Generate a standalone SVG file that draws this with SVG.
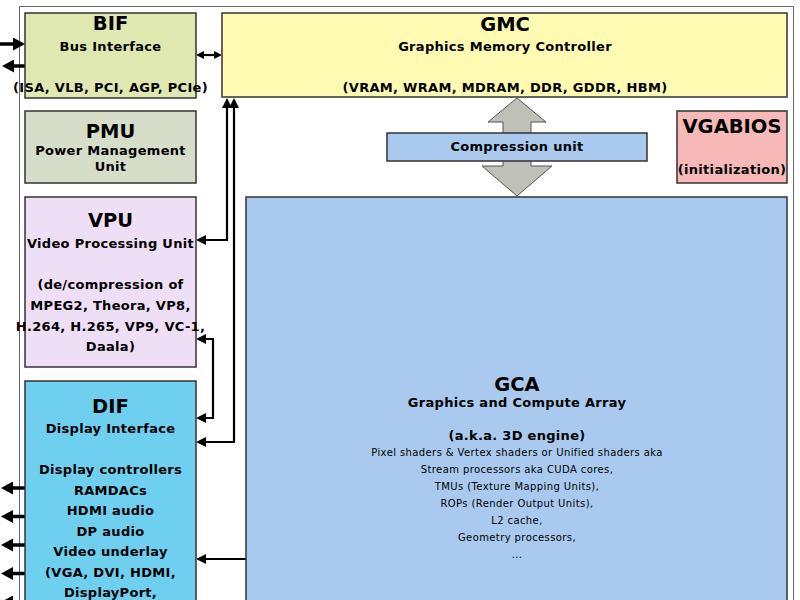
<svg xmlns="http://www.w3.org/2000/svg" width="800" height="600" viewBox="0 0 800 600">
<style>
.box{stroke:#333;stroke-width:1.5}
text{font-family:"DejaVu Sans","Liberation Sans",sans-serif;font-weight:bold;text-anchor:middle;fill:#000}
.t{font-size:19.5px}
.s{font-size:13px;letter-spacing:0.3px}
.r{font-size:10px;font-weight:normal;letter-spacing:0.4px}
.ln{fill:none;stroke:#000}
.thick{stroke-width:3.5}
.thin{stroke-width:2.2}
</style>
<defs>
<marker id="big" markerUnits="userSpaceOnUse" markerWidth="13" markerHeight="13" refX="0" refY="6.5" orient="auto-start-reverse"><path d="M0,0 L12,6.5 L0,13 Z" fill="#000"/></marker>
<marker id="med" markerUnits="userSpaceOnUse" markerWidth="11" markerHeight="11" refX="0" refY="5" orient="auto-start-reverse"><path d="M0,0 L10,5 L0,10 Z" fill="#000"/></marker>
<marker id="sm" markerUnits="userSpaceOnUse" markerWidth="9" markerHeight="9" refX="0" refY="4" orient="auto-start-reverse"><path d="M0,0 L8,4 L0,8 Z" fill="#000"/></marker>
</defs>
<rect x="0" y="0" width="800" height="600" fill="#fff"/>
<path d="M19.5,600 V6.5 H793.5 V600" fill="none" stroke="#666" stroke-width="1"/>

<g id="connectors">
<path d="M517,98 L546,122 L531,122 L531,166 L552,166 L517,196 L482,166 L503,166 L503,122 L488,122 Z" fill="#bfc1b9" stroke="#555" stroke-width="1"/>
<line class="ln thick" x1="0" y1="44" x2="13" y2="44" marker-end="url(#big)"/>
<line class="ln thick" x1="25" y1="66" x2="14" y2="66" marker-end="url(#big)"/>
<line class="ln thin" x1="204" y1="55" x2="214" y2="55" marker-start="url(#sm)" marker-end="url(#sm)"/>
<path class="ln thin" d="M206,240 H227 V108" marker-start="url(#med)" marker-end="url(#med)"/>
<path class="ln thin" d="M206,442 H234 V108" marker-start="url(#med)" marker-end="url(#med)"/>
<path class="ln thin" d="M206,339 H213 V418 H206" marker-start="url(#med)" marker-end="url(#med)"/>
<line class="ln thin" x1="246" y1="559" x2="206" y2="559" marker-end="url(#med)"/>
<line class="ln thick" x1="25" y1="488" x2="13" y2="488" marker-end="url(#big)"/>
<line class="ln thick" x1="25" y1="516.5" x2="13" y2="516.5" marker-end="url(#big)"/>
<line class="ln thick" x1="25" y1="545" x2="13" y2="545" marker-end="url(#big)"/>
<line class="ln thick" x1="25" y1="573.5" x2="13" y2="573.5" marker-end="url(#big)"/>
<line class="ln thick" x1="25" y1="602" x2="13" y2="602" marker-end="url(#big)"/>
</g>

<g id="bif">
<rect class="box" x="25" y="13" width="171" height="85" fill="#dfe8b1"/>
<text class="t" x="110.5" y="30">BIF</text>
<text class="s" x="110.5" y="51">Bus Interface</text>
<text class="s" x="110.5" y="92">(ISA, VLB, PCI, AGP, PCIe)</text>
</g>

<g id="pmu">
<rect class="box" x="25" y="111" width="171" height="72" fill="#d6ddc8"/>
<text class="t" x="110.5" y="138">PMU</text>
<text class="s" x="110.5" y="155">Power Management</text>
<text class="s" x="110.5" y="171">Unit</text>
</g>

<g id="vpu">
<rect class="box" x="25" y="197" width="171" height="170" fill="#eedff6"/>
<text class="t" x="110.5" y="227">VPU</text>
<text class="s" x="110.5" y="248">Video Processing Unit</text>
<text class="s" x="110.5" y="289">(de/compression of</text>
<text class="s" x="110.5" y="310">MPEG2, Theora, VP8,</text>
<text class="s" x="110.5" y="331">H.264, H.265, VP9, VC-1,</text>
<text class="s" x="110.5" y="351">Daala)</text>
</g>

<g id="dif">
<rect class="box" x="25" y="381" width="171" height="230" fill="#6fcfef"/>
<text class="t" x="110.5" y="413">DIF</text>
<text class="s" x="110.5" y="433">Display Interface</text>
<text class="s" x="110.5" y="474">Display controllers</text>
<text class="s" x="110.5" y="494.5">RAMDACs</text>
<text class="s" x="110.5" y="515">HDMI audio</text>
<text class="s" x="110.5" y="535.5">DP audio</text>
<text class="s" x="110.5" y="556">Video underlay</text>
<text class="s" x="110.5" y="576.5">(VGA, DVI, HDMI,</text>
<text class="s" x="110.5" y="597">DisplayPort,</text>
</g>

<g id="gmc">
<rect class="box" x="222" y="13" width="565" height="84" fill="#fffbb2"/>
<text class="t" x="505" y="31">GMC</text>
<text class="s" x="505" y="51">Graphics Memory Controller</text>
<text class="s" x="505" y="92">(VRAM, WRAM, MDRAM, DDR, GDDR, HBM)</text>
</g>

<g id="compression">
<rect class="box" x="387" y="133" width="260" height="28" fill="#a9caee"/>
<text class="s" x="517" y="151">Compression unit</text>
</g>

<g id="vgabios">
<rect class="box" x="677" y="111" width="110" height="72" fill="#f7b9b7"/>
<text class="t" x="732" y="133">VGABIOS</text>
<text class="s" x="732" y="174">(initialization)</text>
</g>

<g id="gca">
<rect class="box" x="246" y="197" width="541" height="414" fill="#a9caee"/>
<text class="t" x="517" y="391">GCA</text>
<text class="s" x="517" y="407">Graphics and Compute Array</text>
<text class="s" x="517" y="440">(a.k.a. 3D engine)</text>
<text class="r" x="517" y="456">Pixel shaders &amp; Vertex shaders or Unified shaders aka</text>
<text class="r" x="517" y="473">Stream processors aka CUDA cores,</text>
<text class="r" x="517" y="490">TMUs (Texture Mapping Units),</text>
<text class="r" x="517" y="507">ROPs (Render Output Units),</text>
<text class="r" x="517" y="524">L2 cache,</text>
<text class="r" x="517" y="541">Geometry processors,</text>
<text class="r" x="517" y="558">...</text>
</g>
</svg>
